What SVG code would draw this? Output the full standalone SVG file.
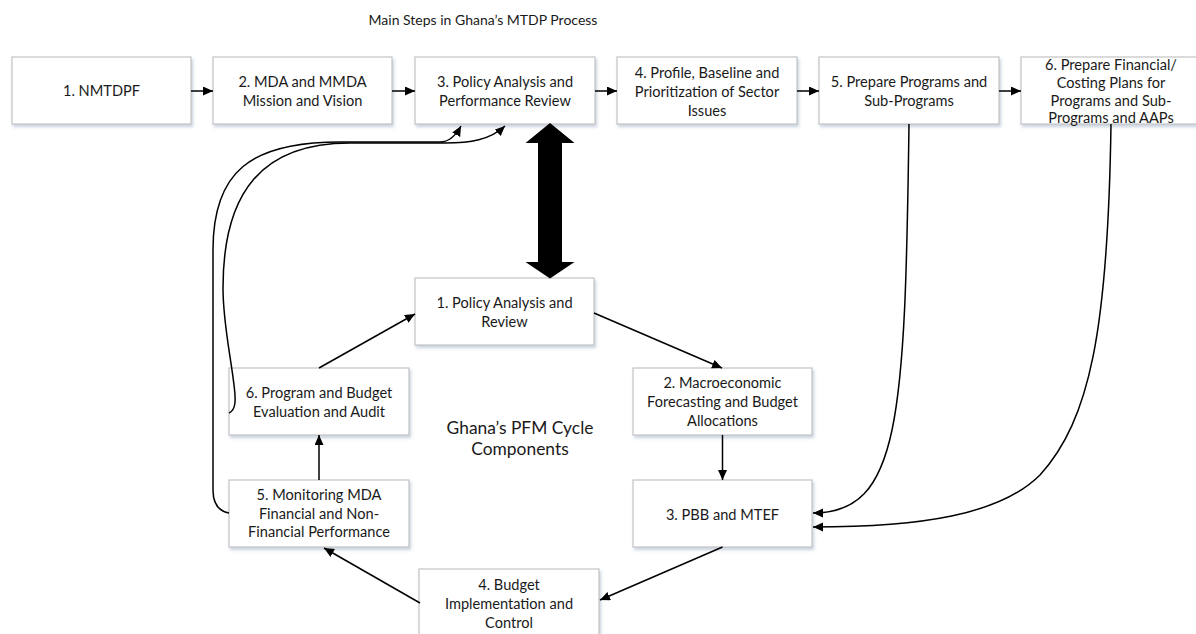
<svg xmlns="http://www.w3.org/2000/svg" width="1196" height="634" viewBox="0 0 1196 634">
  <defs>
    <filter id="shadow" x="-10%" y="-10%" width="130%" height="140%">
      <feDropShadow dx="1.5" dy="2.5" stdDeviation="1.5" flood-color="#9fb0c8" flood-opacity="0.55"/>
    </filter>
    <marker id="arrow" markerUnits="userSpaceOnUse" markerWidth="11" markerHeight="10" refX="10" refY="4.5" orient="auto">
      <path d="M0,0 L10,4.5 L0,9 z" fill="#000"/>
    </marker>
  </defs>
  <style>
    .box { fill: #fff; stroke: #c4c4c4; stroke-width: 1.2; filter: url(#shadow); }
    .lbl { font-family: Lato, "Liberation Sans", sans-serif; font-size: 14.6px; fill: #1a1a1a; text-anchor: middle; }
    .title { font-family: Lato, "Liberation Sans", sans-serif; font-size: 14px; fill: #1a1a1a; text-anchor: middle; }
    .big { font-family: Lato, "Liberation Sans", sans-serif; font-size: 17.4px; fill: #1a1a1a; text-anchor: middle; }
    .edge { fill: none; stroke: #000; stroke-width: 1.5; marker-end: url(#arrow); }
  </style>
  <rect width="1196" height="634" fill="#fff"/>

  <text class="title" x="483" y="25">Main Steps in Ghana’s MTDP Process</text>

  <!-- MTDP process steps (top row) -->
  <g id="mtdp1">
    <rect class="box" x="12" y="57" width="179" height="67"/>
    <text class="lbl" x="101.5" y="96">1. NMTDPF</text>
  </g>
  <g id="mtdp2">
    <rect class="box" x="213" y="57" width="179" height="67"/>
    <text class="lbl" x="302.5" y="87">2. MDA and MMDA</text>
    <text class="lbl" x="302.5" y="106">Mission and Vision</text>
  </g>
  <g id="mtdp3">
    <rect class="box" x="415" y="57" width="180" height="67"/>
    <text class="lbl" x="505" y="87">3. Policy Analysis and</text>
    <text class="lbl" x="505" y="106">Performance Review</text>
  </g>
  <g id="mtdp4">
    <rect class="box" x="617" y="57" width="180" height="67"/>
    <text class="lbl" x="707" y="78">4. Profile, Baseline and</text>
    <text class="lbl" x="707" y="97">Prioritization of Sector</text>
    <text class="lbl" x="707" y="116">Issues</text>
  </g>
  <g id="mtdp5">
    <rect class="box" x="819" y="57" width="180" height="67"/>
    <text class="lbl" x="909" y="87">5. Prepare Programs and</text>
    <text class="lbl" x="909" y="106">Sub-Programs</text>
  </g>
  <g id="mtdp6">
    <rect class="box" x="1021" y="57" width="180" height="67"/>
    <text class="lbl" x="1111" y="69.5">6. Prepare Financial/</text>
    <text class="lbl" x="1111" y="87.5">Costing Plans for</text>
    <text class="lbl" x="1111" y="105.5">Programs and Sub-</text>
    <text class="lbl" x="1111" y="123">Programs and AAPs</text>
  </g>

  <!-- PFM cycle components -->
  <g id="pfm1">
    <rect class="box" x="415" y="278" width="179" height="67"/>
    <text class="lbl" x="504.5" y="308">1. Policy Analysis and</text>
    <text class="lbl" x="504.5" y="327">Review</text>
  </g>
  <g id="pfm2">
    <rect class="box" x="633" y="368" width="179" height="67"/>
    <text class="lbl" x="722.5" y="388">2. Macroeconomic</text>
    <text class="lbl" x="722.5" y="407">Forecasting and Budget</text>
    <text class="lbl" x="722.5" y="426">Allocations</text>
  </g>
  <g id="pfm3">
    <rect class="box" x="633" y="480" width="179" height="67"/>
    <text class="lbl" x="722.5" y="520">3. PBB and MTEF</text>
  </g>
  <g id="pfm4">
    <rect class="box" x="419" y="569" width="180" height="70"/>
    <text class="lbl" x="509" y="590">4. Budget</text>
    <text class="lbl" x="509" y="609">Implementation and</text>
    <text class="lbl" x="509" y="628">Control</text>
  </g>
  <g id="pfm5">
    <rect class="box" x="229" y="480" width="180" height="67"/>
    <text class="lbl" x="319" y="500">5. Monitoring MDA</text>
    <text class="lbl" x="319" y="518.5">Financial and Non-</text>
    <text class="lbl" x="319" y="537">Financial Performance</text>
  </g>
  <g id="pfm6">
    <rect class="box" x="229" y="368" width="180" height="67"/>
    <text class="lbl" x="319" y="398">6. Program and Budget</text>
    <text class="lbl" x="319" y="417">Evaluation and Audit</text>
  </g>

  <text class="big" x="520" y="434">Ghana’s PFM Cycle</text>
  <text class="big" x="520" y="455">Components</text>

  <!-- connectors -->
  <g id="connectors">
    <line class="edge" x1="191" y1="91" x2="213" y2="91"/>
    <line class="edge" x1="392" y1="91" x2="415" y2="91"/>
    <line class="edge" x1="595" y1="91" x2="617" y2="91"/>
    <line class="edge" x1="797" y1="91" x2="819" y2="91"/>
    <line class="edge" x1="999" y1="91" x2="1021" y2="91"/>

    <!-- link between the two processes -->
    <polygon points="550,123 574.5,143 562,143 562,262 574.5,262 550,278.5 525.5,262 538,262 538,143 525.5,143" fill="#000"/>

    <!-- cycle -->
    <line class="edge" x1="594" y1="313" x2="722" y2="368"/>
    <line class="edge" x1="722.5" y1="435" x2="722.5" y2="480"/>
    <line class="edge" x1="722.5" y1="547" x2="600" y2="600"/>
    <line class="edge" x1="420" y1="603" x2="324" y2="548"/>
    <line class="edge" x1="319" y1="480" x2="319" y2="435"/>
    <line class="edge" x1="319" y1="368" x2="415" y2="314"/>

    <!-- program inputs into PBB -->
    <path class="edge" d="M909,124 C905,420 900,513 813,513"/>
    <path class="edge" d="M1111,124 C1108,330 1090,420 1040,475 C1000,515 920,527 813,527"/>

    <!-- feedback into policy review -->
    <path class="edge" d="M229,513 C218,511 213,504 213,490 L213,250 C213,172 250,142 340,142 L440,142 C449,142 455,137 461,126"/>
    <path class="edge" d="M229,413 C236,410 236,400 234,385 C230,352 223,322 223,288 C223,192 262,143 350,143 L445,143 C470,143 490,140 505,126"/>
  </g>
</svg>
